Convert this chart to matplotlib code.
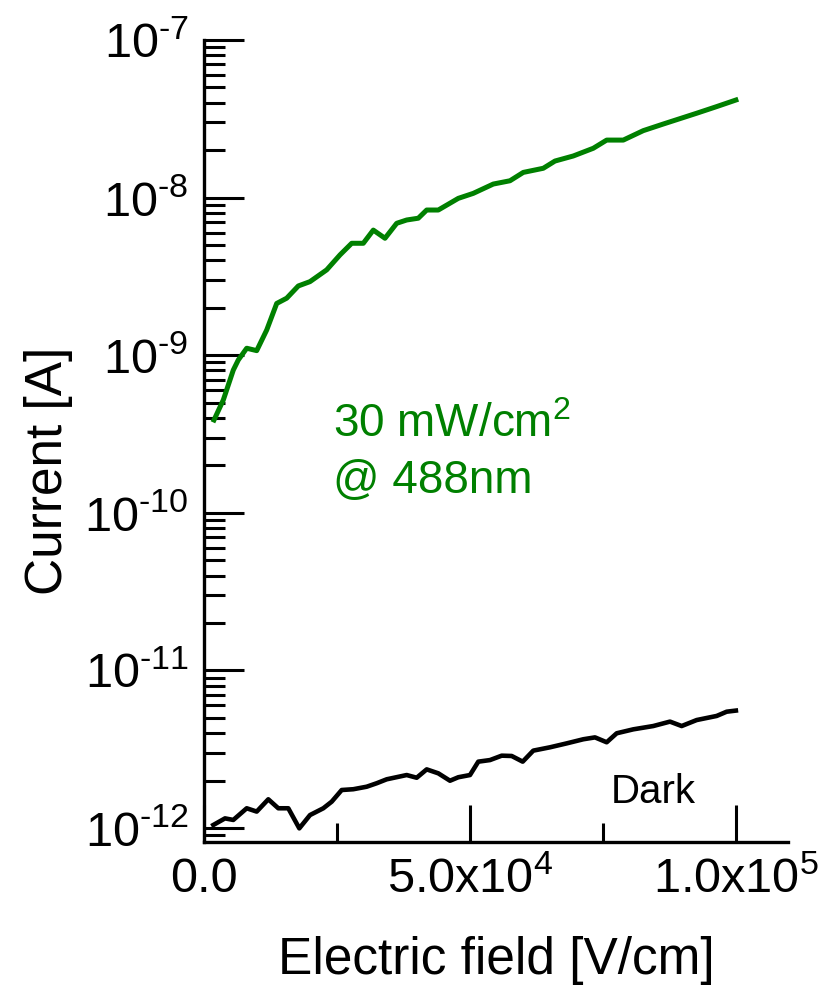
import matplotlib
matplotlib.use("Agg")
import matplotlib.pyplot as plt
from matplotlib.ticker import FixedLocator, LogLocator, NullFormatter

plt.rcParams["font.family"] = ["Liberation Sans", "DejaVu Sans"]
plt.rcParams["mathtext.fontset"] = "custom"
plt.rcParams["mathtext.rm"] = "Liberation Sans"
plt.rcParams["mathtext.it"] = "Liberation Sans:italic"
plt.rcParams["mathtext.bf"] = "Liberation Sans:bold"

# photocurrent under 30 mW/cm2 @ 488nm
field_light = [1880, 3630, 5510, 6450, 8030, 9910, 11790, 13670, 15550, 17730,
               19930, 23070, 25570, 27770, 29950, 31830, 34030, 36230, 38110,
               40290, 41870, 44050, 47810, 50630, 54390, 57530, 60030, 63790,
               65990, 69430, 73190, 75710, 78830, 82590, 86350, 92630, 96390,
               100000]
current_light = [3.88e-10, 5.20e-10, 8.05e-10, 9.33e-10, 1.107e-9, 1.069e-9,
                 1.445e-9, 2.13e-9, 2.30e-9, 2.75e-9, 2.93e-9, 3.48e-9,
                 4.33e-9, 5.13e-9, 5.13e-9, 6.22e-9, 5.52e-9, 6.87e-9,
                 7.21e-9, 7.40e-9, 8.34e-9, 8.34e-9, 9.89e-9, 1.064e-8,
                 1.219e-8, 1.279e-8, 1.445e-8, 1.535e-8, 1.706e-8, 1.837e-8,
                 2.056e-8, 2.317e-8, 2.317e-8, 2.66e-8, 2.93e-8, 3.43e-8,
                 3.78e-8, 4.16e-8]

# dark current
field_dark = [1750, 3950, 5510, 8030, 9910, 12090, 13970, 15850, 17920, 19930,
              22430, 24010, 25890, 28070, 30590, 32470, 34350, 38110, 39990,
              41870, 44050, 46250, 47810, 50010, 51570, 53770, 55970, 57850,
              59920, 61910, 65050, 68190, 71310, 73510, 75710, 77590, 80710,
              84470, 87610, 89810, 92630, 96390, 98270, 100000]
current_dark = [1.045e-12, 1.151e-12, 1.125e-12, 1.334e-12, 1.271e-12,
                1.521e-12, 1.334e-12, 1.334e-12, 9.95e-13, 1.208e-12,
                1.334e-12, 1.469e-12, 1.742e-12, 1.762e-12, 1.828e-12,
                1.923e-12, 2.037e-12, 2.168e-12, 2.084e-12, 2.355e-12,
                2.223e-12, 1.995e-12, 2.099e-12, 2.168e-12, 2.636e-12,
                2.698e-12, 2.877e-12, 2.864e-12, 2.636e-12, 3.097e-12,
                3.251e-12, 3.443e-12, 3.656e-12, 3.758e-12, 3.499e-12,
                3.990e-12, 4.227e-12, 4.436e-12, 4.732e-12, 4.436e-12,
                4.842e-12, 5.140e-12, 5.470e-12, 5.559e-12]

x_major = [0, 5e4, 1e5]
x_major_labels = ["0.0", r"$5.0\mathregular{x}10^{4}$", r"$1.0\mathregular{x}10^{5}$"]
x_minor = [2.5e4, 7.5e4]
y_major = [1e-12, 1e-11, 1e-10, 1e-9, 1e-8, 1e-7]
y_major_labels = [r"$10^{\text{-}12}$", r"$10^{\text{-}11}$", r"$10^{\text{-}10}$",
                  r"$10^{\text{-}9}$", r"$10^{\text{-}8}$", r"$10^{\text{-}7}$"]

GREEN = "#008000"

fig = plt.figure(figsize=(8.4, 9.91), dpi=100)
ax = fig.add_axes([204 / 840, 1 - 842 / 991, 584 / 840, 802 / 991])

ax.plot(field_light, current_light, color=GREEN, lw=3.6, solid_joinstyle="round")
ax.plot(field_dark, current_dark, color="black", lw=3.3, solid_joinstyle="round")

ax.set_yscale("log")
ax.set_xlim(0, 1.098e5)
ax.set_ylim(8.15e-13, 1e-7)

for side in ("top", "right"):
    ax.spines[side].set_visible(False)
for side in ("left", "bottom"):
    ax.spines[side].set_linewidth(2.4)

ax.xaxis.set_major_locator(FixedLocator(x_major))
ax.xaxis.set_minor_locator(FixedLocator(x_minor))
ax.set_xticklabels(x_major_labels)
ax.yaxis.set_major_locator(FixedLocator(y_major))
ax.yaxis.set_minor_locator(LogLocator(base=10, subs=range(2, 10), numticks=20))
ax.yaxis.set_minor_formatter(NullFormatter())
ax.set_yticklabels(y_major_labels)

ax.tick_params(axis="y", which="major", direction="in", length=29, width=2.2,
               labelsize=35, pad=11)
ax.tick_params(axis="y", which="minor", direction="in", length=15, width=2.2)
ax.tick_params(axis="x", which="major", direction="in", length=27, width=2.2,
               labelsize=35, pad=11)
ax.tick_params(axis="x", which="minor", direction="in", length=13.5, width=2.2)

ax.set_xlabel("Electric field [V/cm]", fontsize=37)
ax.xaxis.set_label_coords(0.5, -0.117)
ax.set_ylabel("Current [A]", fontsize=37)
ax.yaxis.set_label_coords(-0.224, 0.4626)

ax.text(24300, 3.03e-10, r"30 mW/cm$^{2}$", color=GREEN, fontsize=33, va="baseline")
ax.text(24300, 1.34e-10, "@ 488nm", color=GREEN, fontsize=33, va="baseline")
ax.text(76400, 1.44e-12, "Dark", color="black", fontsize=29, va="baseline")

fig.savefig("out.png", dpi=100)
